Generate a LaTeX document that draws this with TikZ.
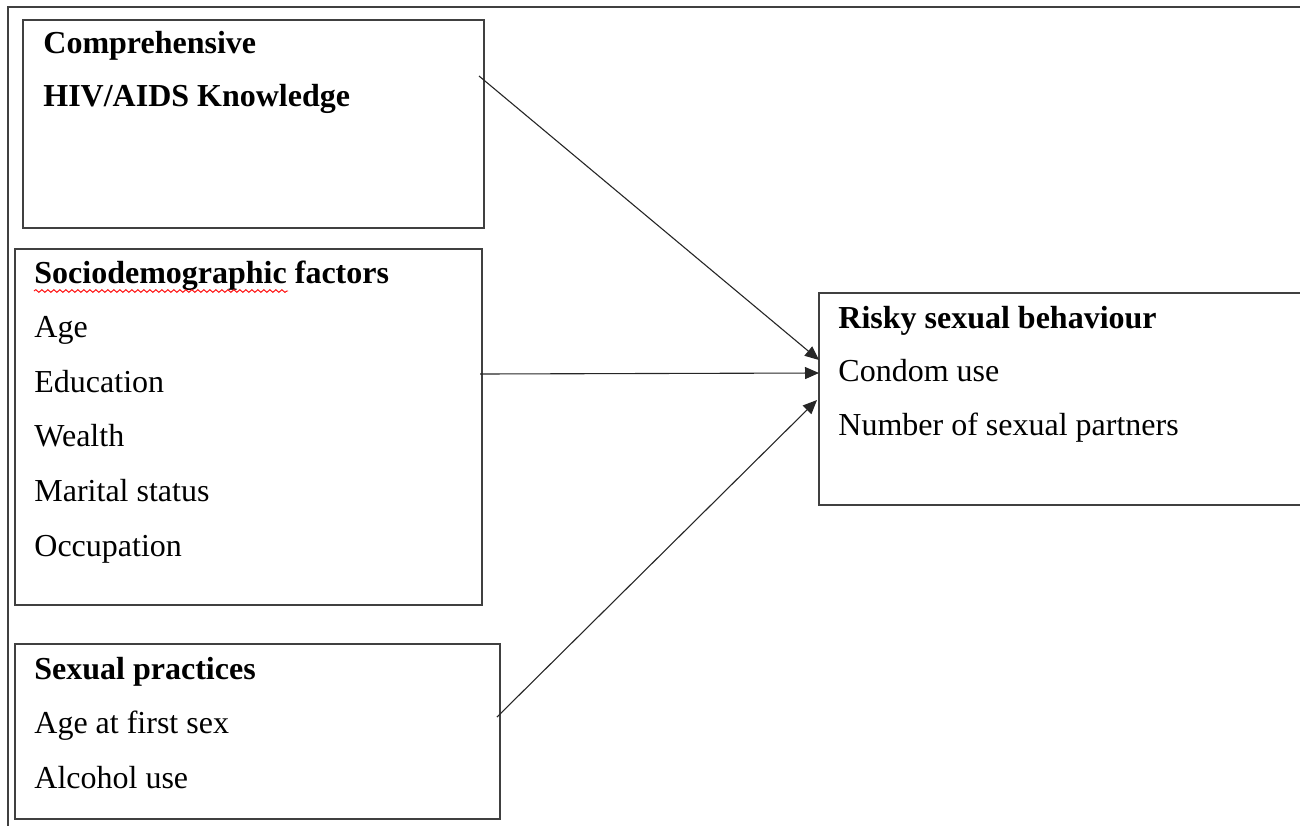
\documentclass[tikz,border=0pt]{standalone}
\usepackage{fontspec}
\setmainfont{Liberation Serif}
\usetikzlibrary{arrows.meta,decorations.pathmorphing}
\tikzset{
  box/.style={draw=black!75, line width=0.8pt, anchor=north west, inner sep=0pt, outer sep=0pt},
  head/.style={anchor=base west, inner sep=0pt, font=\fontsize{16}{19}\selectfont\bfseries},
  item/.style={anchor=base west, inner sep=0pt, font=\fontsize{16}{19}\selectfont},
  link/.style={draw=black!85, line width=0.55pt, -{Triangle[length=7pt,width=6pt]}},
}
\begin{document}
\begin{tikzpicture}[x=0.5pt, y=-0.5pt]
\useasboundingbox (0,0) rectangle (1300,825);
\clip (0,0) rectangle (1300,825);
% outer frame
\draw[draw=black!75, line width=1pt] (7.5,840) -- (7.5,7) -- (1310,7);
% boxes
\node[box, minimum width=230.5pt, minimum height=104pt] (knowledge) at (23,20) {};
\node[box, minimum width=233.5pt, minimum height=178pt] (socio) at (15,249) {};
\node[box, minimum width=242.5pt, minimum height=87.5pt] (practice) at (15,644) {};
\node[box, minimum width=260pt, minimum height=106pt] (risk) at (819,293) {};
% texts
\node[head] (knowledge-h1) at (43,53) {Comprehensive};
\node[head] (knowledge-h2) at (43,106) {HIV/AIDS Knowledge};
\node[head] (socio-h) at (34,283) {Sociodemographic factors};
\foreach \t [count=\i] in {Age, Education, Wealth, Marital status, Occupation}
  \node[item] (socio-\i) at (34,283+\i*54.6) {\t};
\node[head] (practice-h) at (34,679) {Sexual practices};
\foreach \t [count=\i] in {Age at first sex, Alcohol use}
  \node[item] (practice-\i) at (34,679+\i*54.5) {\t};
\node[head] (risk-h) at (838,328) {Risky sexual behaviour};
\foreach \t [count=\i] in {Condom use, Number of sexual partners}
  \node[item] (risk-\i) at (838,328+\i*53.5) {\t};
% spell-check mark
\draw[red, line width=0.45pt, decorate, decoration={snake, segment length=3pt, amplitude=0.7pt}]
  (34,291) -- (288,291);
% connectors
\coordinate (knowledge-out) at (479,76);
\coordinate (socio-out) at (480,374);
\coordinate (practice-out) at (497,717);
\coordinate (risk-in1) at (819,360);
\coordinate (risk-in2) at (819,373);
\coordinate (risk-in3) at (817,400);
\draw[link] (knowledge-out) -- (risk-in1);
\draw[link] (socio-out) -- (risk-in2);
\draw[link] (practice-out) -- (risk-in3);
\end{tikzpicture}
\end{document}
